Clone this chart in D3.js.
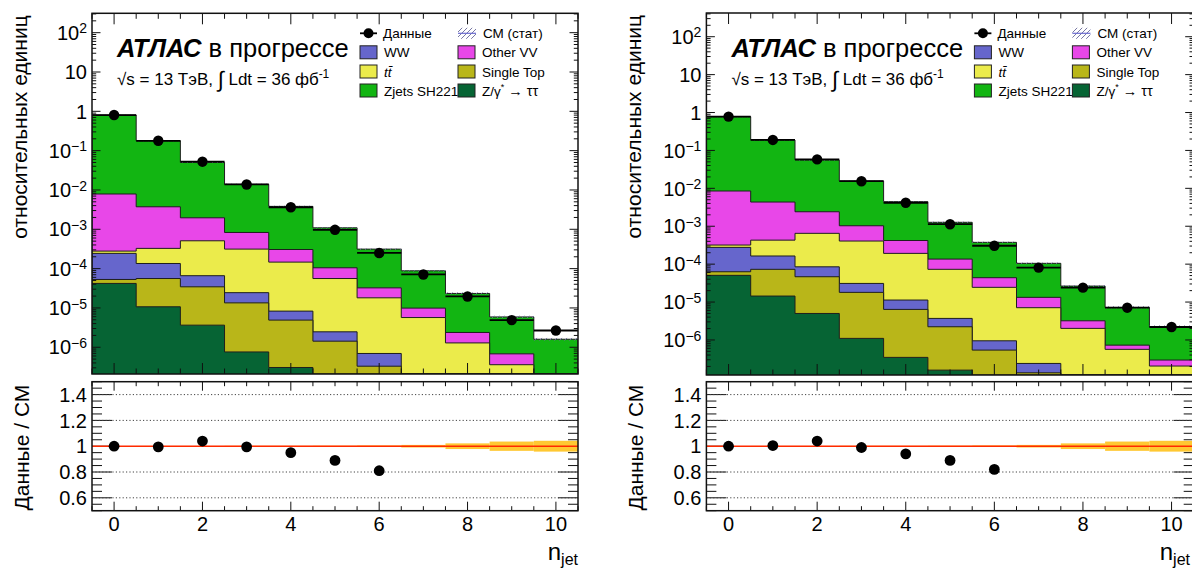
<!DOCTYPE html>
<html><head><meta charset="utf-8">
<script src="https://cdn.jsdelivr.net/npm/d3@7"></script>
<style>
body{margin:0;background:#fff}
svg{display:block}
text{font-family:"Liberation Sans",Arial,Helvetica,sans-serif;fill:#000}
</style>
</head><body>
<svg id="c" width="1192" height="569"></svg>
<script>
// ---------------- DATA ----------------
const bins = [0,1,2,3,4,5,6,7,8,9,10];
const xTickValues = [0,2,4,6,8,10];
const xTickLabels = ["0","2","4","6","8","10"];
const yTickExps = [-6,-5,-4,-3,-2,-1,0,1,2];
const ratioTickValues = [0.6,0.8,1.0,1.2,1.4];
const ratioTickLabels = ["0.6","0.8","1","1.2","1.4"];
const ratioGridValues = [0.6,0.8,1.2,1.4];

// Left panel components (stack order bottom -> top)
const leftZtautau   = [4.2e-5,1.07e-5,3.65e-6,7.6e-7,3.06e-7,0,0,0,0,0,0];
const leftSingleTop = [1.1e-5,4.53e-5,3.08e-5,1.27e-5,4.6e-6,1.43e-6,3.3e-7,0,0,0,0];
const leftWW        = [1.91e-4,7.9e-5,3.16e-5,1.1e-5,3.4e-6,1.04e-6,3.65e-7,0,0,0,0];
const leftTtbar     = [3.5e-5,1.92e-4,4.44e-4,2.89e-4,1.38e-4,5.35e-5,1.74e-5,5.7e-6,1.29e-6,3.6e-7,0];
const leftOtherVV   = [7.62e-3,3.41e-3,1.45e-3,5.17e-4,1.6e-4,4.9e-5,1.43e-5,4.2e-6,1.09e-6,3.2e-7,0];
const leftZjets     = [0.797,0.1753,0.0484,0.01307,3.52e-3,9.85e-4,2.81e-4,7.81e-5,2.1e-5,5.22e-6,1.6e-6];
const leftData      = [0.805,0.178,0.0524,0.0138,3.64e-3,9.7e-4,2.5e-4,7.1e-5,1.96e-5,4.9e-6,2.67e-6];
const leftRatio     = [1.0,0.995,1.04,0.995,0.95,0.89,0.81];
const leftStatErr   = [0.001,0.002,0.002,0.003,0.003,0.004,0.006,0.010,0.022,0.036,0.042];

// Right panel components
const rightZtautau   = [5.06e-5,1.44e-5,5.0e-6,1.1e-6,3.47e-7,1.6e-7,0,0,0,0,0];
const rightSingleTop = [1.24e-5,5.86e-5,4.15e-5,1.69e-5,6.05e-6,2.07e-6,5.4e-7,1.36e-7,0,0,0];
const rightWW        = [2.14e-4,9.1e-5,3.85e-5,1.3e-5,4.9e-6,1.47e-6,4.1e-7,1.04e-7,0,0,0];
const rightTtbar     = [4.2e-5,2.66e-4,5.65e-4,3.76e-4,1.81e-4,6.93e-5,2.35e-5,6.86e-6,2.02e-6,5.65e-7,2.05e-7];
const rightOtherVV   = [8.18e-3,3.92e-3,1.76e-3,6.23e-4,2.28e-4,6.3e-5,1.94e-5,6.2e-6,1.18e-6,1.65e-7,9e-8];
const rightZjets     = [0.7665,0.1837,0.0534,0.01457,4.01e-3,1.134e-3,3.32e-4,9.17e-5,2.32e-5,6.47e-6,1.94e-6];
const rightData      = [0.78,0.189,0.058,0.0154,4.17e-3,1.13e-3,3.06e-4,8.1e-5,2.4e-5,7.1e-6,2.2e-6];
const rightRatio     = [1.0,1.005,1.04,0.99,0.94,0.89,0.82];
const rightStatErr   = [0.001,0.002,0.002,0.003,0.003,0.004,0.006,0.010,0.022,0.036,0.042];

const sampleNames  = ["Z/γ* → ττ","Single Top","WW","tt̄","Other VV","Zjets SH221"];
const sampleColors = ["#066434","#b9b619","#6666cc","#ebeb4b","#e847e8","#12b512"];

// ---------------- LAYOUT ----------------
const svg = d3.select("#c");

const defs = svg.append("defs");
const pat = defs.append("pattern").attr("id","hatch").attr("patternUnits","userSpaceOnUse")
  .attr("width",5).attr("height",5);
pat.append("path").attr("d","M-1,1 l2,-2 M0,5 l5,-5 M4,6 l2,-2").attr("stroke","#6a6a9a").attr("stroke-width",0.9);

const panels = [
  {x0:92, x1:578, mTop:13.3, mBot:374, rTop:381.7, rBot:510.7, yMin:2.09e-7, yMax:311,
   comps:[leftZtautau,leftSingleTop,leftWW,leftTtbar,leftOtherVV,leftZjets],
   data:leftData, ratio:leftRatio, stat:leftStatErr, id:"L"},
  {x0:706.4, x1:1193.7, mTop:13, mBot:375, rTop:381.7, rBot:510.7, yMin:1.19e-7, yMax:422,
   comps:[rightZtautau,rightSingleTop,rightWW,rightTtbar,rightOtherVV,rightZjets],
   data:rightData, ratio:rightRatio, stat:rightStatErr, id:"R"}
];

panels.forEach(p => drawPanel(p));

function drawPanel(p){
  const g = svg.append("g");
  const x = d3.scaleLinear().domain([-0.5,10.5]).range([p.x0,p.x1]);
  const y = d3.scaleLog().domain([p.yMin,p.yMax]).range([p.mBot,p.mTop]).clamp(true);
  const yr = d3.scaleLinear().domain([0.5,1.5]).range([p.rBot,p.rTop]);
  const yv = v => y(Math.max(v,p.yMin));

  defs.append("clipPath").attr("id","clipM"+p.id).append("rect")
    .attr("x",p.x0).attr("y",p.mTop).attr("width",p.x1-p.x0).attr("height",p.mBot-p.mTop);
  defs.append("clipPath").attr("id","clipR"+p.id).append("rect")
    .attr("x",p.x0).attr("y",p.rTop).attr("width",p.x1-p.x0).attr("height",p.rBot-p.rTop);

  const cum = [];
  let run = bins.map(()=>0);
  p.comps.forEach(c => { run = run.map((v,i)=>v+c[i]); cum.push(run.slice()); });
  const total = cum[cum.length-1];

  const main = g.append("g").attr("clip-path","url(#clipM"+p.id+")");
  function stepPath(vals){
    let d = `M${x(-0.5)},${p.mBot+2}`;
    bins.forEach((b,i)=>{ d += `L${x(b-0.5)},${yv(vals[i])}L${x(b+0.5)},${yv(vals[i])}`; });
    d += `L${x(10.5)},${p.mBot+2}Z`;
    return d;
  }
  for(let k=cum.length-1;k>=0;k--){
    main.append("path").attr("d",stepPath(cum[k])).attr("fill",sampleColors[k])
      .attr("stroke","#1e1e1e").attr("stroke-width",1);
  }
  main.selectAll(".band").data(bins).enter().append("rect")
    .attr("x",b=>x(b-0.5)).attr("width",b=>x(b+0.5)-x(b-0.5))
    .attr("y",(b,i)=>yv(total[i]*(1+p.stat[i]))-0.6)
    .attr("height",(b,i)=>Math.max(1.2, yv(total[i]*(1-p.stat[i]))-yv(total[i]*(1+p.stat[i]))+1.2))
    .attr("fill","url(#hatch)");
  main.selectAll(".dl").data(bins).enter().append("line")
    .attr("x1",b=>x(b-0.5)).attr("x2",b=>x(b+0.5))
    .attr("y1",(b,i)=>yv(p.data[i])).attr("y2",(b,i)=>yv(p.data[i]))
    .attr("stroke","#000").attr("stroke-width",1.8);
  main.selectAll(".dp").data(bins).enter().append("circle")
    .attr("cx",b=>x(b)).attr("cy",(b,i)=>yv(p.data[i])).attr("r",5.2).attr("fill","#000");

  const ax = g.append("g").attr("stroke","#111").attr("stroke-width",1);
  const minorX = d3.range(-0.5,10.51,0.5);
  minorX.forEach(v=>{
    const major = Math.abs(v%2)<1e-9;
    const L = major?11:5.5;
    const L2 = major?9:4.5;
    ax.append("line").attr("x1",x(v)).attr("x2",x(v)).attr("y1",p.mBot).attr("y2",p.mBot-L);
    ax.append("line").attr("x1",x(v)).attr("x2",x(v)).attr("y1",p.mTop).attr("y2",p.mTop+L);
    ax.append("line").attr("x1",x(v)).attr("x2",x(v)).attr("y1",p.rBot).attr("y2",p.rBot-L2);
    ax.append("line").attr("x1",x(v)).attr("x2",x(v)).attr("y1",p.rTop).attr("y2",p.rTop+L2);
  });
  for(let e=-7;e<=2;e++){
    for(let m=1;m<=9;m++){
      const v = m*Math.pow(10,e);
      if(v<p.yMin||v>p.yMax) continue;
      const L = m===1?8.5:4.2;
      ax.append("line").attr("x1",p.x0).attr("x2",p.x0+L).attr("y1",y(v)).attr("y2",y(v));
      ax.append("line").attr("x1",p.x1).attr("x2",p.x1-L).attr("y1",y(v)).attr("y2",y(v));
    }
  }
  yTickExps.forEach(e=>{
    const t = g.append("text").attr("x",p.x0-5).attr("y",y(Math.pow(10,e))+7.2)
      .attr("text-anchor","end").attr("font-size",20);
    if(e===0){ t.text("1"); }
    else if(e===1){ t.text("10"); }
    else {
      t.append("tspan").text("10");
      t.append("tspan").attr("font-size",14).attr("dy",-6.5)
        .text(e<0?"\u2212"+(-e):String(e));
    }
  });

  const rg = g.append("g").attr("clip-path","url(#clipR"+p.id+")");
  ratioGridValues.forEach(v=>{
    rg.append("line").attr("x1",p.x0).attr("x2",p.x1).attr("y1",yr(v)).attr("y2",yr(v))
      .attr("stroke","#444").attr("stroke-width",1).attr("stroke-dasharray","1.2,2.2");
  });
  rg.selectAll(".rb").data(bins).enter().append("rect")
    .attr("x",b=>x(b-0.5)).attr("width",b=>x(b+0.5)-x(b-0.5))
    .attr("y",(b,i)=>yr(1+p.stat[i])).attr("height",(b,i)=>yr(1-p.stat[i])-yr(1+p.stat[i]))
    .attr("fill","#ffc832");
  rg.append("line").attr("x1",p.x0).attr("x2",p.x1).attr("y1",yr(1)).attr("y2",yr(1))
    .attr("stroke","#ff2a00").attr("stroke-width",1.4);
  rg.selectAll(".rp").data(p.ratio).enter().append("circle")
    .attr("cx",(d,i)=>x(bins[i])).attr("cy",d=>yr(d)).attr("r",5.4).attr("fill","#000");

  d3.range(0.5,1.501,0.05).forEach(v=>{
    const major = Math.abs(Math.round(v*10)-v*10)<1e-6 && Math.round(v*10)%2===0;
    const L = major?20:10;
    ax.append("line").attr("x1",p.x0).attr("x2",p.x0+L).attr("y1",yr(v)).attr("y2",yr(v));
    ax.append("line").attr("x1",p.x1).attr("x2",p.x1-L).attr("y1",yr(v)).attr("y2",yr(v));
  });
  ratioTickValues.forEach((v,i)=>{
    g.append("text").attr("x",p.x0-5).attr("y",yr(v)+7.2).attr("text-anchor","end")
      .attr("font-size",20).text(ratioTickLabels[i]);
  });
  xTickValues.forEach((v,i)=>{
    g.append("text").attr("x",x(v)).attr("y",p.rBot+20).attr("text-anchor","middle")
      .attr("font-size",20).text(xTickLabels[i]);
  });

  g.append("rect").attr("x",p.x0).attr("y",p.mTop).attr("width",p.x1-p.x0).attr("height",p.mBot-p.mTop)
    .attr("fill","none").attr("stroke","#111").attr("stroke-width",1.5);
  g.append("rect").attr("x",p.x0).attr("y",p.rTop).attr("width",p.x1-p.x0).attr("height",p.rBot-p.rTop)
    .attr("fill","none").attr("stroke","#111").attr("stroke-width",1.5);

  g.append("text").attr("transform",`translate(${p.x0-65},${p.mTop+2}) rotate(-90)`)
    .attr("text-anchor","end").attr("font-size",21).text("относительных единиц");
  g.append("text").attr("transform",`translate(${p.x0-63},${p.rTop+3}) rotate(-90)`)
    .attr("text-anchor","end").attr("font-size",21).text("Данные / СМ");
  const xt = g.append("text").attr("x",Math.min(p.x1,1190)).attr("y",p.rBot+49).attr("text-anchor","end").attr("font-size",24);
  xt.append("tspan").text("n");
  xt.append("tspan").attr("font-size",16).attr("dy",5).text("jet");

  const lx = p.x0+25;
  const at = g.append("text").attr("x",lx).attr("y",56.5).attr("font-size",25.5);
  at.append("tspan").attr("font-weight","bold").attr("font-style","italic").text("АТЛАС");
  at.append("tspan").text(" в прогрессе");
  const l2 = g.append("text").attr("x",lx).attr("y",85).attr("font-size",17);
  l2.append("tspan").text("√s = 13 ТэВ, ");
  l2.append("tspan").attr("font-size",22).attr("dy",2).text("∫");
  l2.append("tspan").attr("dy",-2).text(" Ldt = 36 фб");
  l2.append("tspan").attr("font-size",12).attr("dy",-7).text("-1");

  const lgx = p.x0 + 268, lgx2 = p.x0 + 366;
  const rows = [33.3,52.3,71.5,90.5];
  const lg = g.append("g");
  lg.append("line").attr("x1",lgx).attr("x2",lgx+17).attr("y1",rows[0]).attr("y2",rows[0]).attr("stroke","#000").attr("stroke-width",1.8);
  lg.append("circle").attr("cx",lgx+8.5).attr("cy",rows[0]).attr("r",5).attr("fill","#000");
  lg.append("text").attr("x",lgx+23).attr("y",rows[0]+5).attr("font-size",13.5).text("Данные");
  lg.append("rect").attr("x",lgx2).attr("y",rows[0]-5.5).attr("width",18).attr("height",11).attr("fill","url(#hatch)");
  lg.append("line").attr("x1",lgx2).attr("x2",lgx2+18).attr("y1",rows[0]).attr("y2",rows[0]).attr("stroke","#6a6ad0").attr("stroke-width",1.2);
  lg.append("text").attr("x",lgx2+25).attr("y",rows[0]+5).attr("font-size",13.5).text("СМ (стат)");
  const col1 = [[2,rows[1]],[3,rows[2]],[5,rows[3]]];
  const col2 = [[4,rows[1]],[1,rows[2]],[0,rows[3]]];
  [[col1,lgx],[col2,lgx2]].forEach(([col,cx])=>{
    col.forEach(([k,ry])=>{
      lg.append("rect").attr("x",cx).attr("y",ry-6.5).attr("width",17).attr("height",13)
        .attr("fill",sampleColors[k]).attr("stroke","#222").attr("stroke-width",1);
      const t = lg.append("text").attr("x",cx+24).attr("y",ry+5).attr("font-size",13.5);
      if(k===3){ t.attr("font-style","italic").text("tt\u0304"); }
      else if(k===0){
        t.append("tspan").text("Z/γ");
        t.append("tspan").attr("font-size",9).attr("dy",-6).text("*");
        t.append("tspan").attr("dy",6).attr("font-size",14.5).text(" → ττ");
      }
      else t.text(sampleNames[k]);
    });
  });
}
</script>
</body></html>
